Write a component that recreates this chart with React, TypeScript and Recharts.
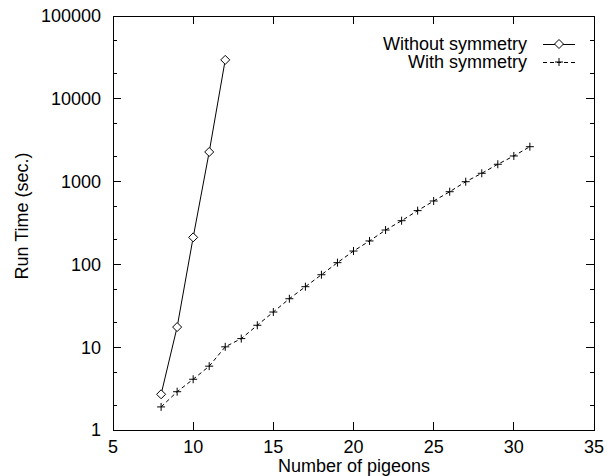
import React from 'react';
import { LineChart, Line, XAxis, YAxis, Customized } from 'recharts';

// pigeons vs run time
const pigeonsNoSym = [8, 9, 10, 11, 12];
const timeNoSym = [2.7, 17.5, 212, 2280, 29500];

const pigeonsSym = [8, 9, 10, 11, 12, 13, 14, 15, 16, 17, 18, 19, 20, 21, 22, 23, 24, 25, 26, 27, 28, 29, 30, 31];
const timeSym = [
  1.9, 2.9, 4.1, 5.9, 10.1, 12.7, 18.4, 26.6, 38.5, 53.8, 75, 105, 145, 192, 260, 337, 446, 583, 755, 997,
  1260, 1620, 2040, 2640,
];

const xTicks = [5, 10, 15, 20, 25, 30, 35];
const yTicks = [1, 2, 5, 10, 20, 50, 100, 200, 500, 1000, 2000, 5000, 10000, 20000, 50000, 100000];

const noSymData = pigeonsNoSym.map((n, i) => ({ n, t: timeNoSym[i] }));
const symData = pigeonsSym.map((n, i) => ({ n, t: timeSym[i] }));

const FONT = '"Liberation Sans", Arial, Helvetica, sans-serif';

const W = 607;
const H = 476;
const MARGIN = { top: 16, right: 13, bottom: 0, left: 0 };
const Y_AXIS_W = 113;
const X_AXIS_H = 46;
const PLOT_W = W - MARGIN.left - MARGIN.right - Y_AXIS_W;
const PLOT_H = H - MARGIN.top - MARGIN.bottom - X_AXIS_H;

const isMajor = (v: number) => Math.abs(Math.log10(Number(v)) - Math.round(Math.log10(Number(v)))) < 1e-9;

const crisp = { stroke: '#000', strokeWidth: 1, shapeRendering: 'crispEdges' as const };

const Diamond = ({ cx, cy }: any) => {
  if (cx == null || cy == null) return null;
  const r = 4.5;
  return (
    <path
      d={`M${cx},${cy - r}L${cx + r},${cy}L${cx},${cy + r}L${cx - r},${cy}Z`}
      fill="#fff"
      stroke="#000"
      strokeWidth={1}
    />
  );
};

const Plus = ({ cx, cy }: any) => {
  if (cx == null || cy == null) return null;
  const r = 4;
  return (
    <path d={`M${cx - r},${cy}H${cx + r}M${cx},${cy - r}V${cy + r}`} stroke="#000" strokeWidth={1} fill="none" />
  );
};

// bottom tick + its mirror on the top border, both pointing inward
const BottomTick = (props: any) => {
  const x = Number(props.x);
  const y = Number(props.y);
  const top = y - PLOT_H;
  return (
    <g>
      <line x1={x} y1={y} x2={x} y2={y - 8} {...crisp} />
      <line x1={x} y1={top} x2={x} y2={top + 8} {...crisp} />
      <text x={x} y={y + 23} textAnchor="middle" fontSize={18} fontFamily={FONT} fill="#000">
        {props.payload.value}
      </text>
    </g>
  );
};

const LeftTick = (props: any) => {
  const x = Number(props.x);
  const y = Number(props.y);
  const major = isMajor(props.payload.value);
  const len = major ? 8 : 4;
  const right = x + PLOT_W;
  return (
    <g>
      <line x1={x} y1={y} x2={x + len} y2={y} {...crisp} />
      <line x1={right - len} y1={y} x2={right} y2={y} {...crisp} />
      {major && (
        <text x={x - 12} y={y + 6.4} textAnchor="end" fontSize={18} fontFamily={FONT} fill="#000">
          {props.payload.value}
        </text>
      )}
    </g>
  );
};

const Decorations = () => (
  <g fontFamily={FONT} fontSize={18} fill="#000">
    <rect
      x={MARGIN.left + Y_AXIS_W}
      y={MARGIN.top}
      width={PLOT_W}
      height={PLOT_H}
      fill="none"
      {...crisp}
    />
    <text x={354} y={471.5} textAnchor="middle">
      Number of pigeons
    </text>
    <text x={22} y={216} textAnchor="middle" dominantBaseline="central" transform="rotate(-90, 22, 216)">
      Run Time (sec.)
    </text>
    <text x={527} y={49.5} textAnchor="end">
      Without symmetry
    </text>
    <line x1={543} y1={44} x2={575} y2={44} {...crisp} />
    <Diamond cx={559} cy={44} />
    <text x={527} y={67.5} textAnchor="end">
      With symmetry
    </text>
    <line x1={543} y1={62} x2={575} y2={62} {...crisp} strokeDasharray="4 3" />
    <Plus cx={559} cy={62} />
  </g>
);

export default function App() {
  return (
    <div style={{ position: 'absolute', left: 0, top: 0, background: '#fff' }}>
      <LineChart width={W} height={H} margin={MARGIN}>
        <XAxis
          dataKey="n"
          type="number"
          domain={[5, 35]}
          ticks={xTicks}
          interval={0}
          height={X_AXIS_H}
          tickSize={0}
          tickMargin={0}
          tickLine={false}
          axisLine={crisp}
          tick={<BottomTick />}
          allowDataOverflow
        />
        <YAxis
          dataKey="t"
          scale="log"
          domain={[1, 100000]}
          ticks={yTicks}
          interval={0}
          width={Y_AXIS_W}
          tickSize={0}
          tickMargin={0}
          tickLine={false}
          axisLine={crisp}
          tick={<LeftTick />}
          allowDataOverflow
        />
        <Line
          data={noSymData}
          dataKey="t"
          type="linear"
          stroke="#000"
          strokeWidth={1}
          dot={<Diamond />}
          activeDot={false}
          isAnimationActive={false}
        />
        <Line
          data={symData}
          dataKey="t"
          type="linear"
          stroke="#000"
          strokeWidth={1}
          strokeDasharray="4 3"
          dot={<Plus />}
          activeDot={false}
          isAnimationActive={false}
        />
        <Customized component={Decorations} />
      </LineChart>
    </div>
  );
}
